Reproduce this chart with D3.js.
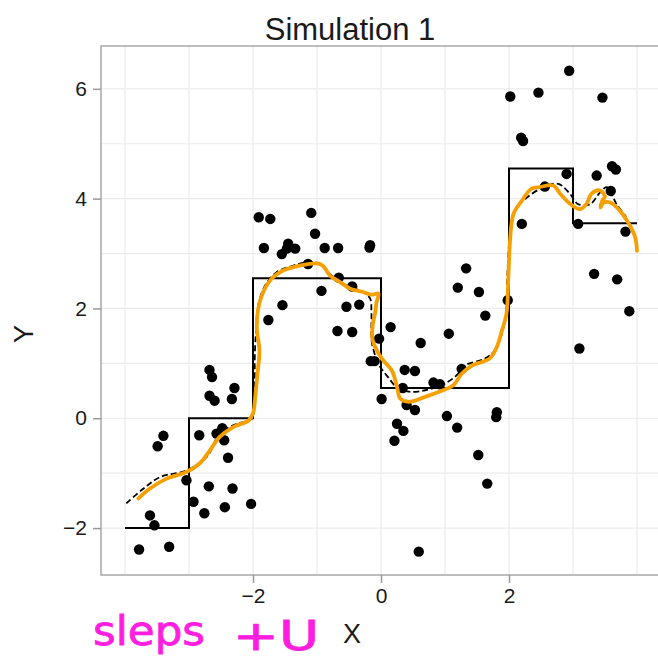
<!DOCTYPE html>
<html lang="en">
<head>
<meta charset="UTF-8">
<title>Simulation 1</title>
<script src="https://d3js.org/d3.v7.min.js"></script>
<style>
    body { margin: 0; background: #fff; font-family: "Liberation Sans", Arial, sans-serif; }
    .grid line { stroke: #ebebeb; stroke-width: 1.2; }
    .axis path { display: none; }
    .axis line { stroke: #9a9a9a; stroke-width: 1.5; }
    .axis text { font-family: "Liberation Sans", Arial, sans-serif; font-size: 21px; fill: #1a1a1a; }
    .axis-title { font-size: 27px; fill: #1a1a1a; }
    .note { font-family: "DejaVu Sans", sans-serif; font-size: 40px; fill: #ff1ee0; stroke: #ff1ee0; stroke-width: 0.8; }
</style>
</head>
<body>
<svg id="chart" width="658" height="658"></svg>
<script>
    // observations
    const pointsX = [-3.78, -3.31, -3.61, -3.54, -3.40, -3.49, -3.04, -2.93, -2.76, -2.69, -2.44, -2.32, -2.03, -2.39,
        -2.84, -2.57, -2.45, -2.48, -2.68, -2.64, -2.29, -2.68, -2.60, -2.33,
        -1.91, -1.73, -1.09, -1.03, -1.83, -1.45, -1.55, -1.34, -1.47, -0.88, -0.67, -0.17, -0.18, -1.14, -0.66, -0.93,
        -0.45, -1.54, -1.76, -0.54, -0.34, -0.68, -0.45, 0.15, -0.03, -0.16, -0.10, 0.01,
        0.37, 0.53, 0.82, 0.92, 1.26, 0.62, 1.06, 1.63, 1.98, 0.40, 0.53, 0.25, 0.35, 0.21, 1.03, 1.19, 1.81, 1.80,
        1.52, 1.66, 0.59, 1.33, 1.20, 1.53, 0.34,
        2.02, 2.46, 2.94, 3.46, 2.19, 2.22, 3.61, 3.67, 2.90, 3.37, 3.59, 2.20, 3.08, 3.82, 3.33, 3.69, 3.88, 3.10, 2.56];
    const pointsY = [-2.39, -2.34, -1.77, -1.95, -0.32, -0.51, -1.13, -1.52, -1.73, -1.24, -1.62, -1.28, -1.56, -0.72,
        -0.31, -0.28, -0.40, -0.18, 0.88, 0.75, 0.55, 0.41, 0.32, 0.35,
        3.66, 3.63, 3.74, 3.36, 3.10, 3.18, 2.99, 3.09, 3.09, 3.10, 3.10, 3.15, 3.11, 2.81, 2.56, 2.32,
        2.40, 2.06, 1.79, 2.03, 2.07, 1.59, 1.57, 1.66, 1.45, 1.04, 1.04, 0.35,
        0.88, 0.86, 0.65, 0.62, 0.90, 1.37, 1.54, 1.87, 2.15, 0.24, 0.15, -0.10, -0.23, -0.41, 0.04, -0.17, 0.11, 0.02,
        -0.67, -1.19, -2.43, 2.73, 2.38, 2.30, 0.55,
        5.86, 5.93, 6.33, 5.84, 5.11, 5.05, 4.59, 4.53, 4.45, 4.42, 4.14, 3.54, 3.54, 3.40, 2.63, 2.53, 1.95, 1.27, 4.22];

    // true step function
    const stepX = [-4, -3, -2, 0, 2, 3, 4];
    const stepY = [-2, 0, 2.55, 0.55, 4.55, 3.55, 3.55];

    // dashed fit
    const fitX = [-3.98, -3.71, -3.45, -3.04, -2.72, -2.52, -2.25, -2.02, -1.98, -1.97, -1.94, -1.92, -1.81, -1.63, -1.37,
        -1.16, -0.95, -0.80, -0.54, -0.28, -0.17, -0.15, -0.15, -0.14, -0.04, 0.11, 0.27, 0.48, 0.69, 0.95, 1.18, 1.31,
        1.63, 1.78, 1.89, 1.96, 1.97, 2.02, 2.12, 2.28, 2.54, 2.77, 2.95, 3.08, 3.27, 3.42, 3.53, 3.68, 3.83];
    const fitY = [-1.55, -1.28, -1.07, -0.95, -0.70, -0.28, -0.10, -0.01, 0.33, 1.21, 1.78, 2.05, 2.42, 2.66, 2.78,
        2.84, 2.81, 2.63, 2.42, 2.30, 2.18, 1.93, 1.51, 1.36, 0.99, 0.75, 0.54, 0.48, 0.51, 0.60, 0.78, 0.96,
        1.09, 1.24, 1.54, 1.96, 2.45, 3.36, 3.84, 4.02, 4.21, 4.27, 4.09, 3.90, 3.90, 4.11, 4.21, 3.90, 3.67];

    // orange hand drawn curve
    const sketchX = [-3.79, -3.61, -3.35, -3.04, -2.83, -2.67, -2.52, -2.31, -2.07, -2.00, -1.96, -1.93, -1.90, -1.94,
        -1.92, -1.84, -1.71, -1.53, -1.27, -1.00, -0.90, -0.80, -0.64, -0.48, -0.28, -0.15, -0.04, -0.07, -0.09, -0.13,
        -0.13, 0.01, 0.17, 0.25, 0.30, 0.43, 0.69, 0.95, 1.13, 1.26, 1.42, 1.70, 1.81, 1.89, 1.96, 1.99, 2.02, 2.07,
        2.20, 2.35, 2.48, 2.69, 2.80, 2.93, 3.11, 3.21, 3.29, 3.42, 3.50, 3.46, 3.43, 3.47, 3.58, 3.71, 3.86, 3.97, 4.00];
    const sketchY = [-1.46, -1.28, -1.10, -0.98, -0.82, -0.58, -0.34, -0.16, -0.04, 0.09, 0.45, 0.81, 1.24, 1.63,
        1.99, 2.30, 2.54, 2.69, 2.78, 2.82, 2.77, 2.60, 2.48, 2.36, 2.30, 2.25, 2.27, 2.11, 1.93, 1.69,
        1.42, 1.09, 0.87, 0.57, 0.36, 0.30, 0.39, 0.50, 0.60, 0.81, 0.96, 1.09, 1.30, 1.60, 1.90, 2.57, 3.30, 3.72,
        3.96, 4.18, 4.21, 4.24, 4.09, 3.93, 3.81, 3.90, 4.09, 4.15, 4.04, 3.97, 3.84, 3.92, 3.93, 3.81, 3.57, 3.30, 3.05];

    const xTicks = [-2, 0, 2];
    const yTicks = [-2, 0, 2, 4, 6];
    const xGrid = [-4, -3, -2, -1, 0, 1, 2, 3, 4];
    const yGrid = [-2, -1, 0, 1, 2, 3, 4, 5, 6];

    const panelBox = {left: 101, right: 661, top: 46, bottom: 575};

    const svg = d3.select("#chart");

    const x = d3.scaleLinear().domain([-4.375, 4.375]).range([panelBox.left, panelBox.right]);
    const y = d3.scaleLinear().domain([-2.855, 6.78]).range([panelBox.bottom, panelBox.top]);

    svg.append("clipPath").attr("id", "panel-clip")
        .append("rect")
        .attr("x", panelBox.left).attr("y", panelBox.top)
        .attr("width", panelBox.right - panelBox.left).attr("height", panelBox.bottom - panelBox.top);

    // grid
    const grid = svg.append("g").attr("class", "grid");
    grid.selectAll(".gx").data(xGrid).enter().append("line")
        .attr("x1", d => x(d)).attr("x2", d => x(d))
        .attr("y1", panelBox.top).attr("y2", panelBox.bottom);
    grid.selectAll(".gy").data(yGrid).enter().append("line")
        .attr("x1", panelBox.left).attr("x2", panelBox.right)
        .attr("y1", d => y(d)).attr("y2", d => y(d));

    const panel = svg.append("g").attr("clip-path", "url(#panel-clip)");

    // step function
    panel.append("path")
        .datum(stepX.map((v, i) => [v, stepY[i]]))
        .attr("fill", "none")
        .attr("stroke", "#000")
        .attr("stroke-width", 2)
        .attr("d", d3.line().x(d => x(d[0])).y(d => y(d[1])).curve(d3.curveStepAfter));

    // points
    panel.selectAll("circle")
        .data(pointsX.map((v, i) => [v, pointsY[i]]))
        .enter()
        .append("circle")
        .attr("cx", d => x(d[0]))
        .attr("cy", d => y(d[1]))
        .attr("r", 5.2)
        .attr("fill", "#000");

    // dashed fit
    panel.append("path")
        .datum(fitX.map((v, i) => [v, fitY[i]]))
        .attr("fill", "none")
        .attr("stroke", "#000")
        .attr("stroke-width", 1.8)
        .attr("stroke-dasharray", "6,3")
        .attr("d", d3.line().x(d => x(d[0])).y(d => y(d[1])).curve(d3.curveCatmullRom));

    // orange sketch
    panel.append("path")
        .datum(sketchX.map((v, i) => [v, sketchY[i]]))
        .attr("fill", "none")
        .attr("stroke", "#f5a000")
        .attr("stroke-width", 3.8)
        .attr("stroke-linecap", "round")
        .attr("stroke-linejoin", "round")
        .attr("d", d3.line().x(d => x(d[0])).y(d => y(d[1])).curve(d3.curveCatmullRom));

    // panel border
    svg.append("rect")
        .attr("x", panelBox.left).attr("y", panelBox.top)
        .attr("width", panelBox.right - panelBox.left).attr("height", panelBox.bottom - panelBox.top)
        .attr("fill", "none")
        .attr("stroke", "#a8a8a8")
        .attr("stroke-width", 1.5);

    // axes
    svg.append("g")
        .attr("class", "axis")
        .attr("transform", `translate(0,${panelBox.bottom})`)
        .call(d3.axisBottom(x).tickValues(xTicks).tickSize(8).tickPadding(5));

    svg.append("g")
        .attr("class", "axis")
        .attr("transform", `translate(${panelBox.left},0)`)
        .call(d3.axisLeft(y).tickValues(yTicks).tickSize(8).tickPadding(6));

    // titles
    svg.append("text")
        .attr("x", 350).attr("y", 40)
        .attr("text-anchor", "middle")
        .style("font-size", "31px")
        .style("fill", "#1a1a1a")
        .text("Simulation 1");

    svg.append("text")
        .attr("class", "axis-title")
        .attr("x", 352).attr("y", 643)
        .attr("text-anchor", "middle")
        .text("X");

    svg.append("text")
        .attr("class", "axis-title")
        .attr("transform", "translate(33,334) rotate(-90)")
        .attr("text-anchor", "middle")
        .text("Y");

    // magenta note
    svg.append("text")
        .attr("class", "note")
        .attr("x", 93).attr("y", 645)
        .attr("textLength", 112)
        .attr("lengthAdjust", "spacingAndGlyphs")
        .text("sleps");
    svg.append("text")
        .attr("class", "note")
        .attr("x", 233).attr("y", 650)
        .attr("textLength", 86)
        .attr("lengthAdjust", "spacingAndGlyphs")
        .text("+U");
</script>
</body>
</html>
